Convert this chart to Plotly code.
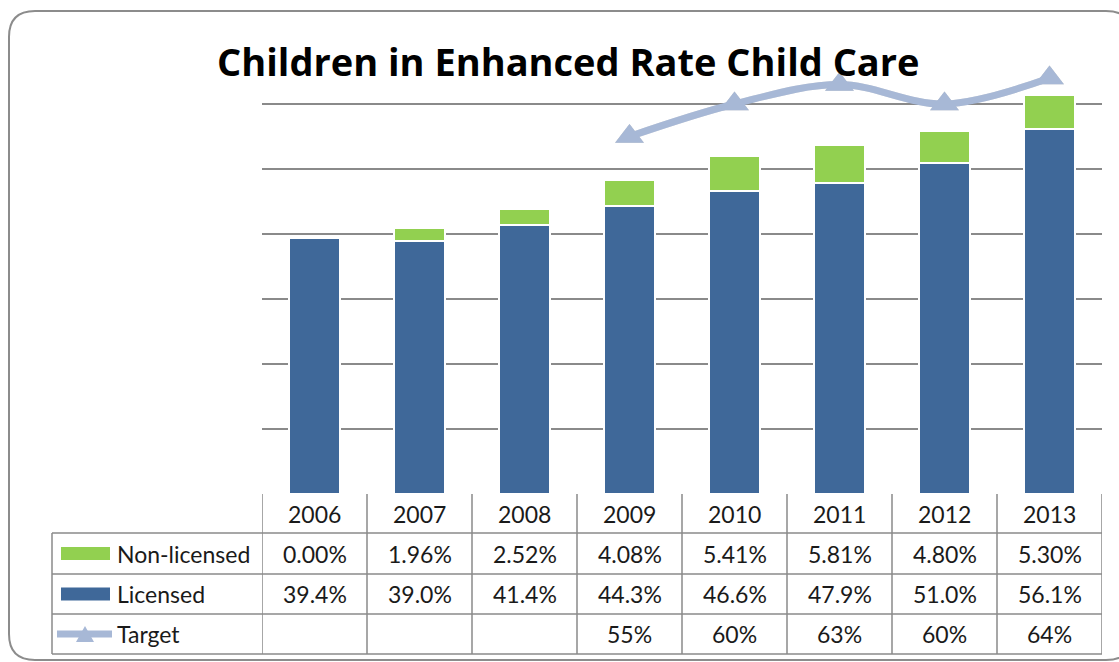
import plotly.graph_objects as go

W, H = 1119, 662

years = ["2006", "2007", "2008", "2009", "2010", "2011", "2012", "2013"]
non_licensed = [0.00, 1.96, 2.52, 4.08, 5.41, 5.81, 4.80, 5.30]
licensed = [39.4, 39.0, 41.4, 44.3, 46.6, 47.9, 51.0, 56.1]
target = [None, None, None, 55, 60, 63, 60, 64]
row_names = ["Non-licensed", "Licensed", "Target"]

BLUE = "#3f6899"
GREEN = "#92d050"
TARGET = "#a7b8d6"
GRID = "#8a8a8a"
FONT = "Lato"


def px(x):
    return x / W


def py(y):
    return 1 - y / H


fig = go.Figure()
xi = list(range(len(years)))

fig.add_bar(x=xi, y=licensed, name="Licensed", width=0.49,
            marker=dict(color=BLUE, line=dict(color="white", width=2)))
fig.add_bar(x=xi, y=non_licensed, name="Non-licensed", width=0.49,
            marker=dict(color=GREEN, line=dict(color="white", width=2)))
# soft shadow of the target series (same data on an axis shifted a few px down)
fig.add_scatter(x=xi, y=target, name="Target shadow", mode="lines+markers", yaxis="y2",
                line=dict(color="rgba(0,0,0,0.12)", width=7, shape="spline", smoothing=1.0),
                marker=dict(symbol="triangle-up", size=25, color="rgba(0,0,0,0.22)"),
                hoverinfo="skip")
fig.add_scatter(x=xi, y=target, name="Target", mode="lines+markers", yaxis="y3",
                line=dict(color=TARGET, width=7, shape="spline", smoothing=1.0),
                marker=dict(symbol="triangle-up", size=25, color=TARGET))

shapes = []
annotations = []

# outer rounded frame
L, T, R, B, r = 9, 11, 1132, 660, 26
path = (f"M {px(L)},{py(T + r)} Q {px(L)},{py(T)} {px(L + r)},{py(T)} "
        f"L {px(R - r)},{py(T)} Q {px(R)},{py(T)} {px(R)},{py(T + r)} "
        f"L {px(R)},{py(B - r)} Q {px(R)},{py(B)} {px(R - r)},{py(B)} "
        f"L {px(L + r)},{py(B)} Q {px(L)},{py(B)} {px(L)},{py(B - r)} Z")
shapes.append(dict(type="path", path=path, xref="paper", yref="paper",
                   line=dict(color="#8c8c8c", width=2)))

# table geometry
row_tops = [494, 533, 574, 614, 654]
TL = 52
for k in range(len(years) + 1):
    shapes.append(dict(type="line", xref="x", yref="paper",
                       x0=k - 0.5, x1=k - 0.5, y0=py(row_tops[0]), y1=py(row_tops[-1]),
                       line=dict(color=GRID, width=1.5)))
for yy in row_tops[1:]:
    shapes.append(dict(type="line", xref="paper", yref="paper",
                       x0=px(TL), x1=px(1102), y0=py(yy), y1=py(yy),
                       line=dict(color=GRID, width=1.5)))
shapes.append(dict(type="line", xref="paper", yref="paper",
                   x0=px(TL), x1=px(TL), y0=py(row_tops[1]), y1=py(row_tops[-1]),
                   line=dict(color=GRID, width=1.5)))

row_centers = [(row_tops[i] + row_tops[i + 1]) / 2 for i in range(4)]

# legend keys in table
shapes.append(dict(type="rect", xref="paper", yref="paper",
                   x0=px(61), x1=px(110), y0=py(row_centers[1] - 6.5), y1=py(row_centers[1] + 6.5),
                   fillcolor=GREEN, line=dict(width=0)))
shapes.append(dict(type="rect", xref="paper", yref="paper",
                   x0=px(61), x1=px(110), y0=py(row_centers[2] - 6.5), y1=py(row_centers[2] + 6.5),
                   fillcolor=BLUE, line=dict(width=0)))
tc = row_centers[3]
shapes.append(dict(type="line", xref="paper", yref="paper",
                   x0=px(57), x1=px(112), y0=py(tc), y1=py(tc),
                   line=dict(color=TARGET, width=7)))
shapes.append(dict(type="path", xref="paper", yref="paper",
                   path=f"M {px(76)},{py(tc + 8)} L {px(94)},{py(tc + 8)} L {px(85)},{py(tc - 8)} Z",
                   fillcolor=TARGET, line=dict(width=0)))

tfont = dict(family=FONT, size=23, color="#1a1a1a")
for name, yc in zip(row_names, row_centers[1:]):
    annotations.append(dict(text=name, xref="paper", yref="paper", x=px(115), y=py(yc),
                            xanchor="left", yanchor="middle", showarrow=False, font=tfont))

for i, yr in enumerate(years):
    annotations.append(dict(text=yr, xref="x", yref="paper", x=i, y=py(row_centers[0]),
                            xanchor="center", yanchor="middle", showarrow=False, font=tfont))
    annotations.append(dict(text=f"{non_licensed[i]:.2f}%", xref="x", yref="paper", x=i,
                            y=py(row_centers[1]), xanchor="center", yanchor="middle",
                            showarrow=False, font=tfont))
    annotations.append(dict(text=f"{licensed[i]:.1f}%", xref="x", yref="paper", x=i,
                            y=py(row_centers[2]), xanchor="center", yanchor="middle",
                            showarrow=False, font=tfont))
    if target[i] is not None:
        annotations.append(dict(text=f"{target[i]:.0f}%", xref="x", yref="paper", x=i,
                                y=py(row_centers[3]), xanchor="center", yanchor="middle",
                                showarrow=False, font=tfont))

annotations.append(dict(text="<b>Children in Enhanced Rate Child Care</b>", xref="paper", yref="paper",
                        x=px(568), y=py(61), xanchor="center", yanchor="middle", showarrow=False,
                        font=dict(family="Open Sans", size=38, color="black")))

SH = 4  # shadow offset in px
hidden = dict(range=[0, 70], showticklabels=False, showgrid=False, zeroline=False,
              showline=False, ticks="", overlaying="y")
fig.update_layout(
    width=W, height=H,
    margin=dict(l=0, r=0, t=0, b=0),
    paper_bgcolor="white", plot_bgcolor="white",
    barmode="stack", showlegend=False,
    xaxis=dict(domain=[px(262), px(1102)], range=[-0.5, len(years) - 0.5],
               showticklabels=False, showgrid=False, zeroline=False, showline=False,
               ticks=""),
    yaxis=dict(domain=[py(494), py(39)], range=[0, 70], tickvals=[10, 20, 30, 40, 50, 60, 70],
               showticklabels=False, showgrid=True, gridcolor=GRID, gridwidth=1.5,
               zeroline=False, showline=False, ticks=""),
    yaxis2=dict(domain=[py(494 + SH), py(39 + SH)], **hidden),
    yaxis3=dict(domain=[py(494), py(39)], **hidden),
    shapes=shapes, annotations=annotations,
)

fig.write_html("out.html")
